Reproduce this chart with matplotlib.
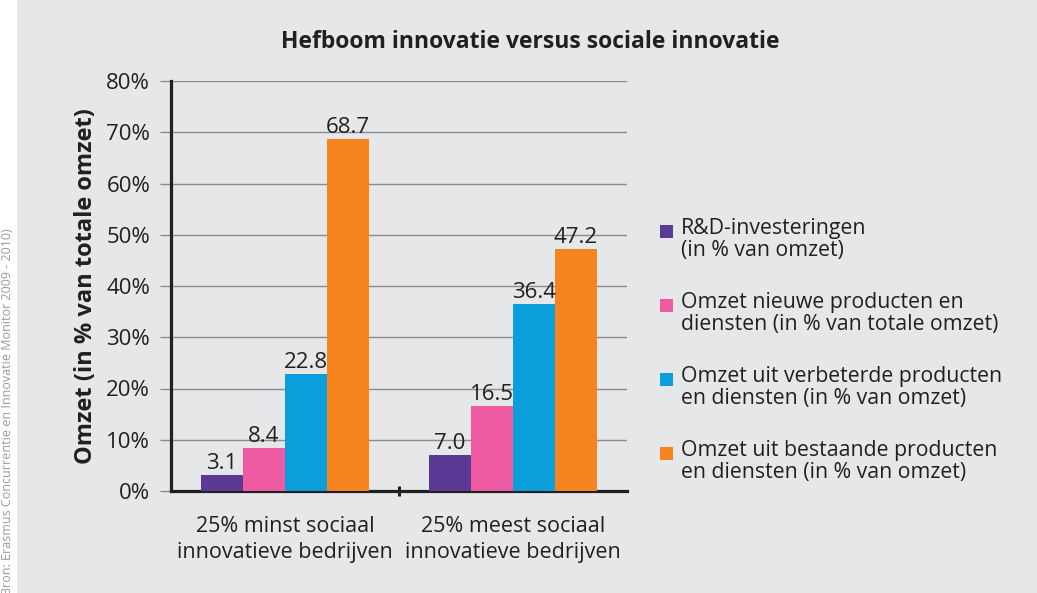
import numpy as np
import matplotlib.pyplot as plt

# data
groups = ['25% minst sociaal\ninnovatieve bedrijven', '25% meest sociaal\ninnovatieve bedrijven']
series = ['R&D-investeringen\n(in % van omzet)',
          'Omzet nieuwe producten en\ndiensten (in % van totale omzet)',
          'Omzet uit verbeterde producten\nen diensten (in % van omzet)',
          'Omzet uit bestaande producten\nen diensten (in % van omzet)']
rd = [3.1, 7.0]
nieuw = [8.4, 16.5]
verbeterd = [22.8, 36.4]
bestaand = [68.7, 47.2]
colors = ['#5b3a96', '#ee5ba2', '#0a9edb', '#f5841f']

plt.rcParams['font.family'] = ['Open Sans', 'DejaVu Sans']
txt = '#231f20'
bg = '#e6e7e8'
W, H = 1037, 593

fig = plt.figure(figsize=(W / 100, H / 100), dpi=100)
fig.patch.set_facecolor(bg)
# white strip on the left with the source
fig.patches.append(plt.Rectangle((0, 0), 17 / W, 1, transform=fig.transFigure,
                                 facecolor='white', edgecolor='none', zorder=0))
fig.text(8 / W, 1 - 228 / H, 'Bron: Erasmus Concurrentie en Innovatie Monitor 2009 - 2010)',
         rotation=90, ha='center', va='top', fontsize=9, color='#9a9a9a')

ax = fig.add_axes([171 / W, 1 - 491 / H, (627 - 171) / W, (491 - 81) / H])
ax.set_facecolor(bg)

x = np.arange(len(groups))
w = 0.184
for i, (vals, c) in enumerate(zip([rd, nieuw, verbeterd, bestaand], colors)):
    pos = x + (i - 1.5) * w
    ax.bar(pos, vals, w, color=c, zorder=3)
    for p, v in zip(pos, vals):
        ax.annotate(f'{v:.1f}', (p, v), xytext=(0, 1), textcoords='offset points',
                    ha='center', va='bottom', fontsize=16, color=txt, zorder=4)

ax.set_xlim(-0.5, 1.5)
ax.set_ylim(0, 80)
ax.set_yticks(np.arange(0, 81, 10))
ax.set_yticklabels([f'{t}%' for t in range(0, 81, 10)], fontsize=16, color=txt)
ax.yaxis.grid(True, color='#8c8c8c', linewidth=1.0, zorder=0)
ax.tick_params(axis='y', length=8, color='#8c8c8c', width=1.0, pad=7)
ax.set_xticks([0.5])
ax.set_xticklabels([''])
ax.tick_params(axis='x', length=7, direction='inout', width=2.2, color=txt)
for g, xp in zip(groups, x):
    ax.text(xp, -4.8, g, ha='center', va='top', fontsize=15.5, color=txt, linespacing=1.35)

for s in ['top', 'right']:
    ax.spines[s].set_visible(False)
for s in ['left', 'bottom']:
    ax.spines[s].set_linewidth(2.3)
    ax.spines[s].set_color(txt)

ax.set_ylabel('Omzet (in % van totale omzet)', fontsize=17, fontweight='bold', color=txt, labelpad=6)
fig.text(530 / W, 1 - 42 / H, 'Hefboom innovatie versus sociale innovatie',
         ha='center', va='center', fontsize=16.5, fontweight='bold', color=txt)

# legend, squares aligned to the first text line
for i, (lab, c) in enumerate(zip(series, colors)):
    yc = 232 + i * 74
    fig.patches.append(plt.Rectangle((660 / W, 1 - (yc + 6) / H), 13 / W, 13 / H,
                                     transform=fig.transFigure, facecolor=c, edgecolor='none'))
    fig.text(681 / W, 1 - (yc - 14) / H, lab, ha='left', va='top', fontsize=15.3,
             color=txt, linespacing=1.05)

fig.savefig('out.png', dpi=100, facecolor=fig.get_facecolor())
